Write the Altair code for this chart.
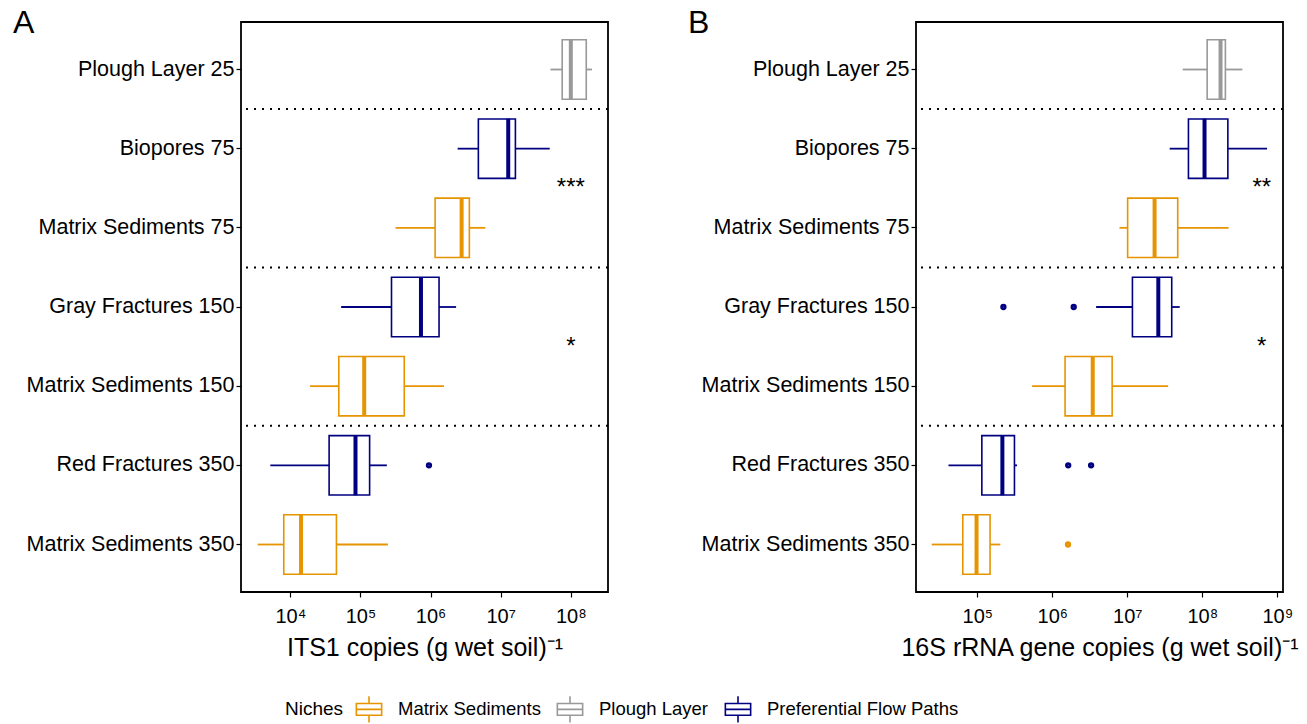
import altair as alt
import pandas as pd

categories = ["Plough Layer 25", "Biopores 75", "Matrix Sediments 75", "Gray Fractures 150",
              "Matrix Sediments 150", "Red Fractures 350", "Matrix Sediments 350"]
niches = ["Plough Layer", "Preferential Flow Paths", "Matrix Sediments", "Preferential Flow Paths",
          "Matrix Sediments", "Preferential Flow Paths", "Matrix Sediments"]
niche_order = ["Matrix Sediments", "Plough Layer", "Preferential Flow Paths"]
niche_colors = ["#E69500", "#999999", "#000080"]

# Panel A: ITS1 copies
a_low = [5.13e7, 2.43e6, 3.16e5, 5.30e4, 1.91e4, 5.18e3, 3.42e3]
a_q1 = [7.53e7, 4.80e6, 1.16e6, 2.77e5, 4.91e4, 3.57e4, 8.05e3]
a_med = [1.00e8, 1.28e7, 2.77e6, 7.29e5, 1.13e5, 8.49e4, 1.42e4]
a_q3 = [1.66e8, 1.62e7, 3.57e6, 1.32e6, 4.21e5, 1.35e5, 4.54e4]
a_high = [2.00e8, 5.00e7, 6.04e6, 2.31e6, 1.55e6, 2.38e5, 2.46e5]
a_out_cat = ["Red Fractures 350"]
a_out_val = [9.48e5]
a_star_text = ["***", "*"]
a_star_x = [1.0e8, 1.0e8]
a_star_row = ["Matrix Sediments 75", "Matrix Sediments 150"]

# Panel B: 16S rRNA gene copies
b_low = [5.48e7, 3.67e7, 7.87e6, 3.84e6, 5.38e5, 4.13e4, 2.47e4]
b_q1 = [1.16e8, 6.53e7, 1.01e7, 1.17e7, 1.48e6, 1.15e5, 6.41e4]
b_med = [1.75e8, 1.07e8, 2.31e7, 2.59e7, 3.46e6, 2.16e5, 9.77e4]
b_q3 = [2.03e8, 2.19e8, 4.70e7, 3.91e7, 6.28e6, 3.13e5, 1.48e5]
b_high = [3.42e8, 7.29e8, 2.24e8, 5.00e7, 3.50e7, 3.39e5, 2.03e5]
b_out_cat = ["Gray Fractures 150", "Gray Fractures 150", "Red Fractures 350", "Red Fractures 350",
             "Matrix Sediments 350"]
b_out_val = [2.23e5, 1.93e6, 1.63e6, 3.29e6, 1.62e6]
b_star_text = ["**", "*"]
b_star_x = [6.2e8, 6.2e8]
b_star_row = ["Matrix Sediments 75", "Matrix Sediments 150"]

separator_rows = ["Biopores 75", "Gray Fractures 150", "Red Fractures 350"]

a_ticks = [1e4, 1e5, 1e6, 1e7, 1e8]
b_ticks = [1e5, 1e6, 1e7, 1e8, 1e9]
a_domain = [1977, 3.39e8]
b_domain = [15240, 1.19e9]

FONT = "Liberation Sans"
PW, PH = 367, 570
STEP = PH / 7.2
GAP = STEP * 0.25 / 2

stroke_scale = alt.Scale(domain=niche_order, range=niche_colors)
stroke_legend = alt.Legend(title="Niches", symbolFillColor="transparent")

sup = "['⁰','¹','²','³','⁴','⁵','⁶','⁷','⁸','⁹'][round(log(datum.value)/LN10)]"


def panel(low, q1, med, q3, high, out_cat, out_val, star_text, star_x, star_row,
          domain, ticks, xtitle, letter):
    stats = pd.DataFrame({"category": categories, "niche": niches, "low": low, "q1": q1,
                          "med": med, "q3": q3, "high": high})
    niche_of = dict(zip(categories, niches))
    outs = pd.DataFrame({"category": out_cat, "value": out_val,
                         "niche": [niche_of[c] for c in out_cat]})
    stars = pd.DataFrame({"text": star_text, "x": star_x, "category": star_row})
    seps = pd.DataFrame({"category": separator_rows})

    yscale = alt.Scale(domain=categories, paddingInner=0.25, paddingOuter=0.225)
    yaxis = alt.Axis(title=None, labelFontSize=21.5, labelColor="black", tickColor="black",
                     tickSize=5, tickWidth=1.2, labelPadding=2, domain=False, labelFont=FONT,
                     labelLimit=500)
    xscale = alt.Scale(type="log", domain=domain, nice=False)
    xaxis = alt.Axis(values=ticks, labelExpr="'10' + " + sup, title=xtitle,
                     labelFontSize=20, labelColor="black", tickColor="black", tickSize=5,
                     tickWidth=1.2, grid=False, domain=False, labelFont=FONT,
                     titleFont=FONT, titleFontSize=25, titleFontWeight="normal",
                     titleColor="black", titlePadding=9, labelPadding=9, titleLimit=600)

    def Y(bp=None):
        if bp is None:
            return alt.Y("category:N", scale=yscale, axis=yaxis, sort=categories)
        return alt.Y("category:N", scale=yscale, axis=yaxis, sort=categories, bandPosition=bp)

    def X(field):
        return alt.X(field, scale=xscale, axis=xaxis)

    stroke = alt.Stroke("niche:N", scale=stroke_scale, legend=stroke_legend)

    base = alt.Chart(stats)
    whisk_lo = base.mark_rule(strokeWidth=1.8).encode(x=X("low:Q"), x2="q1:Q", y=Y(), stroke=stroke)
    whisk_hi = base.mark_rule(strokeWidth=1.8).encode(x=X("q3:Q"), x2="high:Q", y=Y(), stroke=stroke)
    box = base.mark_bar(filled=False, strokeWidth=1.6).encode(
        x=X("q1:Q"), x2="q3:Q", y=Y(), stroke=stroke)
    median = base.mark_tick(filled=False, thickness=0.5, strokeWidth=3.5, size=STEP * 0.75 - 3,
                            orient="vertical", opacity=1).encode(
        x=X("med:Q"), y=Y(), stroke=stroke)
    outliers = alt.Chart(outs).mark_point(filled=False, size=8, strokeWidth=3.5, opacity=1).encode(
        x=X("value:Q"), y=Y(), stroke=stroke)
    sep = alt.Chart(seps).mark_rule(color="black", strokeWidth=2, strokeDash=[2, 6],
                                    yOffset=-GAP).encode(y=Y(0))
    star = alt.Chart(stars).mark_text(fontSize=24, font=FONT, color="black", baseline="middle",
                                      yOffset=-GAP).encode(x=X("x:Q"), text="text:N", y=Y(0))

    return alt.layer(whisk_lo, whisk_hi, box, median, outliers, sep, star).properties(
        width=PW, height=PH,
        title=alt.TitleParams(letter, anchor="start", frame="bounds", fontSize=32,
                              fontWeight="normal", font=FONT, color="black", offset=-43,
                              baseline="alphabetic", dx=-13))


pa = panel(a_low, a_q1, a_med, a_q3, a_high, a_out_cat, a_out_val, a_star_text, a_star_x,
           a_star_row, a_domain, a_ticks, "ITS1 copies (g wet soil)⁻¹", "A")
pb = panel(b_low, b_q1, b_med, b_q3, b_high, b_out_cat, b_out_val, b_star_text, b_star_x,
           b_star_row, b_domain, b_ticks, "16S rRNA gene copies (g wet soil)⁻¹", "B")

glyph = "M-0.8,-0.37H0.8V0.37H-0.8Z M-0.8,0H0.8 M0,-0.37V-0.83 M0,0.37V0.83"

chart = alt.hconcat(pa, pb, spacing=77).properties(
    padding={"left": 12, "top": 6, "right": 0, "bottom": 0}, background="white"
).configure_view(
    stroke="black", strokeWidth=1.8
).configure_legend(
    orient="none", legendX=44, legendY=670, direction="horizontal", titleOrient="left",
    titleFontSize=19, titleFont=FONT, titleFontWeight="normal", titleColor="black",
    labelFontSize=18.5, labelFont=FONT, labelColor="black", symbolType=glyph,
    symbolSize=1000, symbolStrokeWidth=1.6, symbolFillColor="transparent", columnPadding=12,
    labelOffset=12, titlePadding=8, labelLimit=400
)

chart.save("out.html", embed_options={"renderer": "svg", "actions": False})
